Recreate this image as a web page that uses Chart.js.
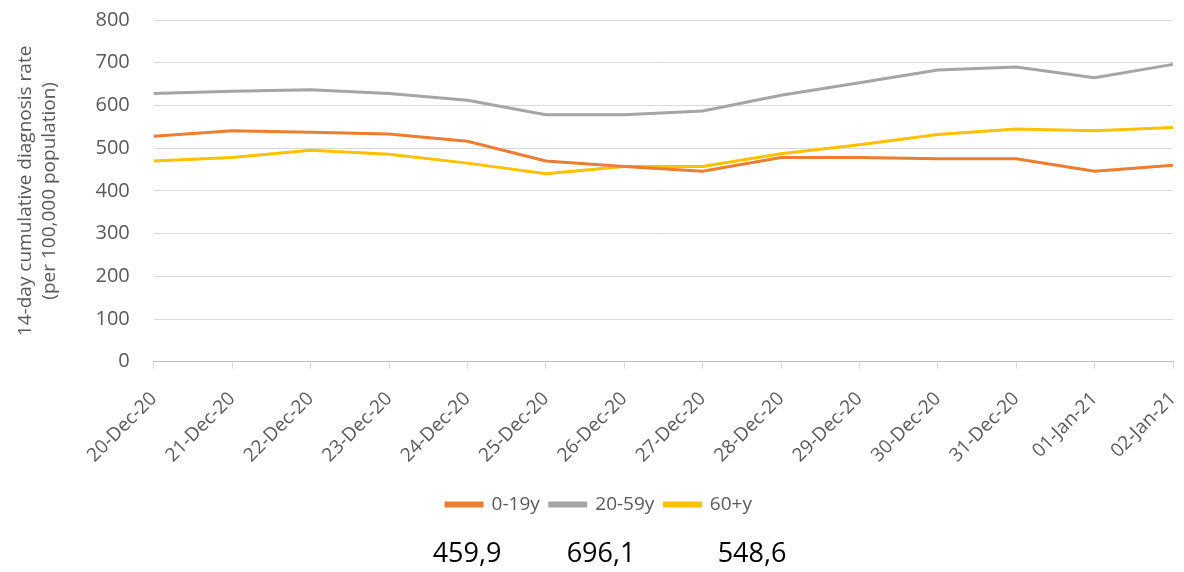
<!DOCTYPE html>
<html lang="en">
<head>
    <meta charset="UTF-8">
    <title>14-day cumulative diagnosis rate by age group</title>
    <script src="https://cdn.jsdelivr.net/npm/chart.js"></script>
    <style>
        body {
            margin: 0;
            padding: 0;
            background: #fff;
            font-family: 'Open Sans', sans-serif;
        }

        .wrap {
            position: relative;
            width: 1184px;
            height: 572px;
        }

        .latest {
            position: absolute;
            top: 533px;
            font-size: 27px;
            color: #000;
            transform: translateX(-50%);
        }
    </style>
</head>
<body>
    <div class="wrap">
        <canvas id="rateChart" width="1184" height="572"></canvas>
        <div class="latest" style="left: 467px;">459,9</div>
        <div class="latest" style="left: 601px;">696,1</div>
        <div class="latest" style="left: 752px;">548,6</div>
    </div>
    <script>
// dates on the x axis
const days = ["20-Dec-20", "21-Dec-20", "22-Dec-20", "23-Dec-20", "24-Dec-20", "25-Dec-20", "26-Dec-20",
              "27-Dec-20", "28-Dec-20", "29-Dec-20", "30-Dec-20", "31-Dec-20", "01-Jan-21", "02-Jan-21"];

// rate per 100,000 by age group
const age0to19 = [528, 541, 537, 533, 516, 470, 457, 446, 478, 478, 475, 475, 446, 459.9];
const age20to59 = [628, 633, 637, 628, 612, 578, 578, 587, 624, 653, 683, 690, 665, 696.1];
const age60plus = [470, 478, 495, 486, 465, 440, 457, 457, 487, 508, 532, 545, 541, 548.6];

const seriesNames = ["0-19y", "20-59y", "60+y"];

const textGrey = "#595959";
const gridGrey = "#d9d9d9";

function lineSet(label, values, colour) {
    return {
        label: label,
        data: values,
        borderColor: colour,
        backgroundColor: colour,
        borderWidth: 3,
        pointRadius: 0,
        tension: 0,
    };
}

document.addEventListener("DOMContentLoaded", () => {
    const ctx = document.getElementById("rateChart").getContext("2d");

    new Chart(ctx, {
        type: "line",
        data: {
            labels: days,
            datasets: [
                lineSet(seriesNames[0], age0to19, "#ED7D31"),
                lineSet(seriesNames[1], age20to59, "#A5A5A5"),
                lineSet(seriesNames[2], age60plus, "#FFC000"),
            ],
        },
        options: {
            responsive: false,
            animation: false,
            layout: {
                padding: { left: 14, right: 0, top: 0, bottom: 48 },
            },
            plugins: {
                legend: {
                    position: "bottom",
                    labels: {
                        boxWidth: 36,
                        boxHeight: 3,
                        padding: 10,
                        color: textGrey,
                        font: { family: "'Open Sans'", size: 19 },
                    },
                },
                tooltip: { enabled: false },
            },
            scales: {
                x: {
                    offset: false,
                    grid: {
                        drawOnChartArea: false,
                        color: gridGrey,
                        tickLength: 7,
                    },
                    border: { color: "#bfbfbf" },
                    ticks: {
                        color: textGrey,
                        maxRotation: 45,
                        minRotation: 45,
                        autoSkip: false,
                        padding: 19,
                        font: { family: "'Open Sans'", size: 19 },
                    },
                    // trim the label band a little, and less room on the right
                    afterFit: (scale) => {
                        scale.height -= 1;
                        scale.paddingRight = 11;
                    },
                },
                y: {
                    min: 0,
                    max: 800,
                    grid: {
                        color: gridGrey,
                        drawTicks: false,
                    },
                    border: { display: false },
                    ticks: {
                        stepSize: 100,
                        color: textGrey,
                        padding: 24,
                        font: { family: "'Open Sans'", size: 20 },
                    },
                    title: {
                        display: true,
                        text: ["14-day cumulative diagnosis rate", "(per 100,000 population)"],
                        color: textGrey,
                        padding: { top: 0, bottom: 10 },
                        font: { family: "'Open Sans'", size: 19, lineHeight: 1.25 },
                    },
                    // tick padding should not push the plot down
                    afterFit: (scale) => {
                        scale.paddingTop = 20;
                    },
                },
            },
        },
    });
});
    </script>
</body>
</html>
